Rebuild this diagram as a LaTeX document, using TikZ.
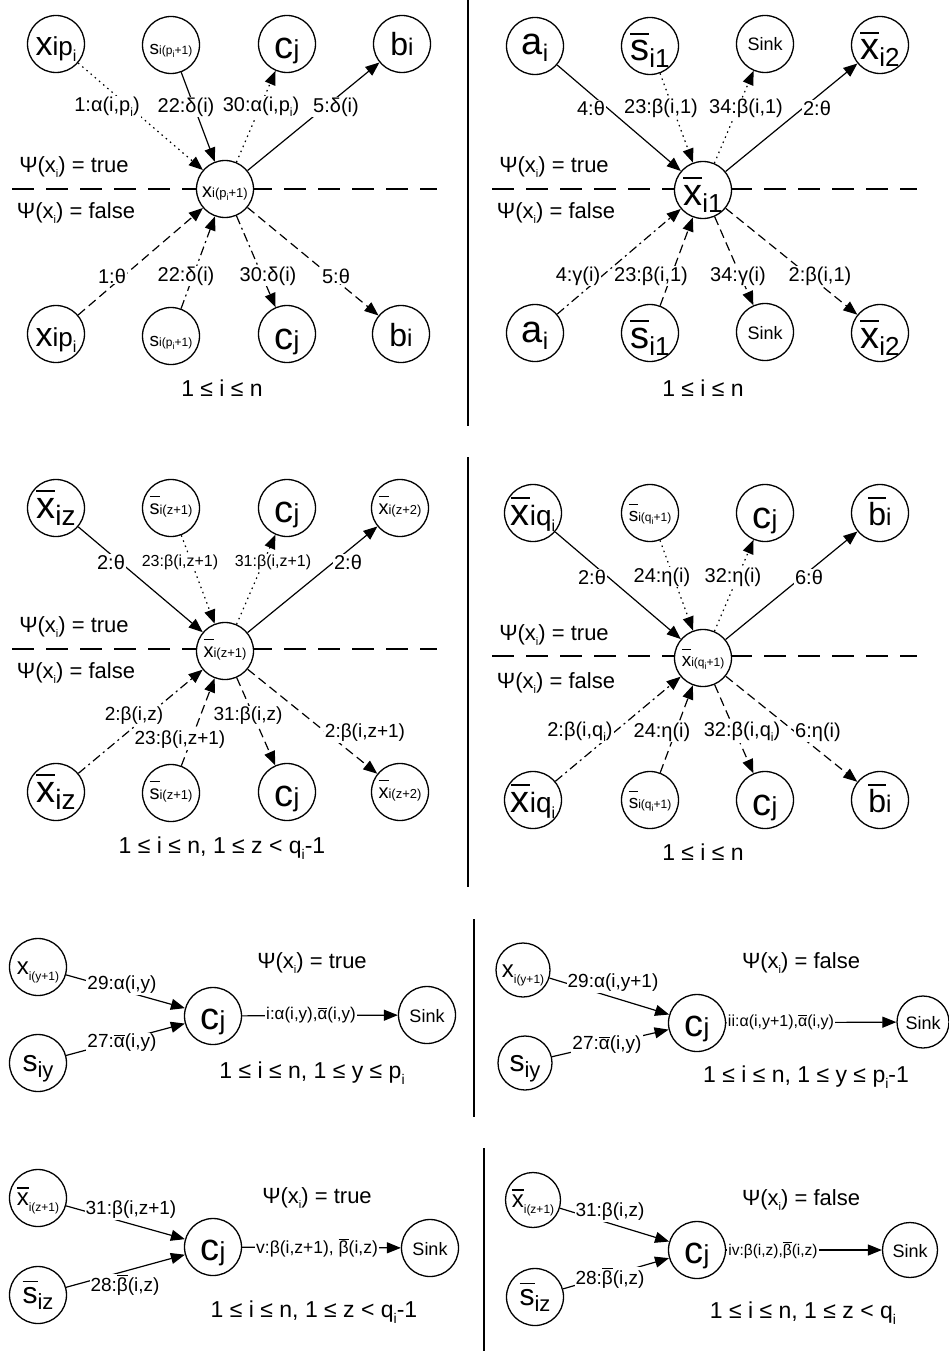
\documentclass[tikz,border=0pt]{standalone}
\usepackage{fontspec}
\setmainfont{Liberation Sans}
\usetikzlibrary{arrows.meta}
\newcommand\fs[1]{\fontsize{#1}{#1}\selectfont}
\newcommand\lo[3]{\raisebox{-#1pt}{\fs{#2}#3}}
\newcommand\ob[2][.15em]{\vbox{\hrule height .06em \kern #1\hbox{#2}}}
\begin{document}
\begin{tikzpicture}[x=1pt,y=-1pt,
  nd/.style={circle,draw,line width=1.3pt,fill=white,minimum size=57pt,inner sep=0pt,text height=20pt,text depth=0pt},
  bo/.style={text height=#1 pt},
  ed/.style={line width=1.2pt,-{Triangle[length=14pt,width=11pt]}},
  dotl/.style={ed,dash pattern=on 1.5pt off 4pt},
  dsh/.style={ed,dash pattern=on 9pt off 5pt},
  dshd/.style={ed,dash pattern=on 9pt off 4pt on 2pt off 4pt},
  lb/.style={fill=white,inner sep=1pt,font=\fs{20}},
  sep/.style={line width=2.5pt,dash pattern=on 22pt off 12pt},
  div/.style={line width=2pt},
  txt/.style={font=\fs{22},inner sep=0pt},
  cons/.style={font=\fs{23},inner sep=0pt},
]
\fill[white] (0,0) rectangle (948,1351);
\useasboundingbox (0,0) rectangle (948,1351);
% dividers
\draw[div] (468,0) -- (468,426);
\draw[div] (468,457) -- (468,887);
\draw[div] (474,919) -- (474,1117);
\draw[div] (484,1148) -- (484,1351);
% horizontal separators
\draw[sep] (12,189) -- (437,189);
\draw[sep] (492,189) -- (917,189);
\draw[sep] (12,649) -- (437,649);
\draw[sep] (492,656) -- (917,656);

% ---------------- Panel 1 ----------------
\node[nd,bo=24] (p1a) at (56,44) {\fs{34}x\fs{26}ip\lo{6}{16}{i}};
\node[nd,bo=20] (p1b) at (171,45) {\fs{19}s\fs{12}i(p\lo{3}{9}{i}+1)};
\node[nd,bo=30] (p1c) at (287,44) {\fs{38}c\fs{26}j};
\node[nd,bo=24] (p1d) at (402,44) {\fs{32}b\fs{24}i};
\node[nd,bo=16] (p1m) at (225,189) {\fs{20}x\fs{13}i(p\lo{3}{9}{i}+1)};
\node[nd,bo=24] (p1e) at (56,334) {\fs{34}x\fs{26}ip\lo{6}{16}{i}};
\node[nd,bo=20] (p1f) at (171,336) {\fs{19}s\fs{12}i(p\lo{3}{9}{i}+1)};
\node[nd,bo=30] (p1g) at (287,334) {\fs{38}c\fs{26}j};
\node[nd,bo=24] (p1h) at (401,334) {\fs{32}b\fs{24}i};
\draw[dotl] (p1a) -- (p1m);
\draw[ed] (p1b) -- (p1m);
\draw[dotl] (p1m) -- (p1c);
\draw[ed] (p1m) -- (p1d);
\draw[dsh] (p1e) -- (p1m);
\draw[dshd] (p1f) -- (p1m);
\draw[dshd] (p1m) -- (p1g);
\draw[dsh] (p1m) -- (p1h);
\node[lb] (l1a) at (107,107) {1:α(i,p\lo{5}{12}{i})};
\node[lb] (l1b) at (186,107) {22:δ(i)};
\node[lb] (l1c) at (261,107) {30:α(i,p\lo{5}{12}{i})};
\node[lb] (l1d) at (336,107) {5:δ(i)};
\node[lb] (l1e) at (112,276) {1:θ};
\node[lb] (l1f) at (186,276) {22:δ(i)};
\node[lb] (l1g) at (268,276) {30:δ(i)};
\node[lb] (l1h) at (336,276) {5:θ};
\node[txt] (t1a) at (74,167) {Ψ(x\lo{5}{11}{i}) = true};
\node[txt] (t1b) at (76,213) {Ψ(x\lo{5}{11}{i}) = false};
\node[cons] (c1) at (222,388) {1 ≤ i ≤ n};

% ---------------- Panel 2 ----------------
\node[nd,bo=18] (p2a) at (535,46) {\fs{38}a\lo{7}{24}{i}};
\node[nd,bo=30] (p2b) at (650,46) {\fs{38}\ob{s}\lo{7}{26}{i1}};
\node[nd,bo=14] (p2c) at (765,44) {\fs{18}Sink};
\node[nd,bo=30] (p2d) at (880,45) {\fs{38}\ob{x}\lo{7}{26}{i2}};
\node[nd,bo=30] (p2m) at (703,190) {\fs{38}\ob{x}\lo{7}{26}{i1}};
\node[nd,bo=18] (p2e) at (535,333) {\fs{38}a\lo{7}{24}{i}};
\node[nd,bo=30] (p2f) at (650,333) {\fs{38}\ob{s}\lo{7}{26}{i1}};
\node[nd,bo=14] (p2g) at (765,332) {\fs{18}Sink};
\node[nd,bo=30] (p2h) at (880,333) {\fs{38}\ob{x}\lo{7}{26}{i2}};
\draw[ed] (p2a) -- (p2m);
\draw[dotl] (p2b) -- (p2m);
\draw[dotl] (p2m) -- (p2c);
\draw[ed] (p2m) -- (p2d);
\draw[dshd] (p2e) -- (p2m);
\draw[dsh] (p2f) -- (p2m);
\draw[dsh] (p2m) -- (p2g);
\draw[dsh] (p2m) -- (p2h);
\node[lb] (l2a) at (591,108) {4:θ};
\node[lb] (l2b) at (661,108) {23:β(i,1)};
\node[lb] (l2c) at (746,108) {34:β(i,1)};
\node[lb] (l2d) at (817,108) {2:θ};
\node[lb] (l2e) at (578,276) {4:γ(i)};
\node[lb] (l2f) at (651,276) {23:β(i,1)};
\node[lb] (l2g) at (738,276) {34:γ(i)};
\node[lb] (l2h) at (820,276) {2:β(i,1)};
\node[txt] (t2a) at (554,167) {Ψ(x\lo{5}{11}{i}) = true};
\node[txt] (t2b) at (556,213) {Ψ(x\lo{5}{11}{i}) = false};
\node[cons] (c2) at (703,388) {1 ≤ i ≤ n};

% ---------------- Panel 3 ----------------
\node[nd,bo=20] (p3a) at (56,508) {\fs{38}\ob{x}\lo{7}{28}{iz}};
\node[nd,bo=12] (p3b) at (171,508) {\fs{20}\ob[.3em]{s}\fs{13}i(z+1)};
\node[nd,bo=28] (p3c) at (287,508) {\fs{38}c\fs{26}j};
\node[nd,bo=12] (p3d) at (400,508) {\fs{20}\ob[.3em]{x}\fs{13}i(z+2)};
\node[nd,bo=12] (p3m) at (225,651) {\fs{20}\ob[.3em]{x}\fs{13}i(z+1)};
\node[nd,bo=20] (p3e) at (56,792) {\fs{38}\ob{x}\lo{7}{28}{iz}};
\node[nd,bo=12] (p3f) at (171,793) {\fs{20}\ob[.3em]{s}\fs{13}i(z+1)};
\node[nd,bo=28] (p3g) at (287,792) {\fs{38}c\fs{26}j};
\node[nd,bo=12] (p3h) at (400,792) {\fs{20}\ob[.3em]{x}\fs{13}i(z+2)};
\draw[ed] (p3a) -- (p3m);
\draw[dotl] (p3b) -- (p3m);
\draw[dotl] (p3m) -- (p3c);
\draw[ed] (p3m) -- (p3d);
\draw[dshd] (p3e) -- (p3m);
\draw[dsh] (p3f) -- (p3m);
\draw[dsh] (p3m) -- (p3g);
\draw[dsh] (p3m) -- (p3h);
\node[lb] (l3a) at (111,562) {2:θ};
\node[lb,font=\fs{16}] (l3b) at (180,562) {23:β(i,z+1)};
\node[lb,font=\fs{16}] (l3c) at (273,562) {31:β(i,z+1)};
\node[lb] (l3d) at (348,562) {2:θ};
\node[lb,font=\fs{19}] (l3e) at (134,716) {2:β(i,z)};
\node[lb,font=\fs{19}] (l3f) at (180,740) {23:β(i,z+1)};
\node[lb,font=\fs{19}] (l3g) at (248,716) {31:β(i,z)};
\node[lb,font=\fs{19}] (l3h) at (365,733) {2:β(i,z+1)};
\node[txt] (t3a) at (74,627) {Ψ(x\lo{5}{11}{i}) = true};
\node[txt] (t3b) at (76,673) {Ψ(x\lo{5}{11}{i}) = false};
\node[cons] (c3) at (222,848) {1 ≤ i ≤ n, 1 ≤ z < q\lo{6}{14}{i}-1};

% ---------------- Panel 4 ----------------
\node[nd,bo=24] (p4a) at (533,513) {\fs{38}\ob{x}\fs{28}iq\lo{6}{16}{i}};
\node[nd,bo=16] (p4b) at (650,513) {\fs{19}\ob[.3em]{s}\fs{12}i(q\lo{3}{9}{i}+1)};
\node[nd,bo=30] (p4c) at (765,513) {\fs{38}c\fs{26}j};
\node[nd,bo=24] (p4d) at (880,513) {\fs{32}\ob[.08em]{b}\fs{24}i};
\node[nd,bo=16] (p4m) at (703,658) {\fs{19}\ob[.3em]{x}\fs{12}i(q\lo{3}{9}{i}+1)};
\node[nd,bo=24] (p4e) at (533,800) {\fs{38}\ob{x}\fs{28}iq\lo{6}{16}{i}};
\node[nd,bo=16] (p4f) at (650,800) {\fs{19}\ob[.3em]{s}\fs{12}i(q\lo{3}{9}{i}+1)};
\node[nd,bo=30] (p4g) at (765,800) {\fs{38}c\fs{26}j};
\node[nd,bo=24] (p4h) at (880,800) {\fs{32}\ob[.08em]{b}\fs{24}i};
\draw[ed] (p4a) -- (p4m);
\draw[dotl] (p4b) -- (p4m);
\draw[dotl] (p4m) -- (p4c);
\draw[ed] (p4m) -- (p4d);
\draw[dshd] (p4e) -- (p4m);
\draw[dsh] (p4f) -- (p4m);
\draw[dsh] (p4m) -- (p4g);
\draw[dsh] (p4m) -- (p4h);
\node[lb] (l4a) at (592,577) {2:θ};
\node[lb] (l4b) at (662,577) {24:η(i)};
\node[lb] (l4c) at (733,577) {32:η(i)};
\node[lb] (l4d) at (809,577) {6:θ};
\node[lb] (l4e) at (580,732) {2:β(i,q\lo{5}{12}{i})};
\node[lb] (l4f) at (662,732) {24:η(i)};
\node[lb] (l4g) at (742,732) {32:β(i,q\lo{5}{12}{i})};
\node[lb] (l4h) at (818,732) {6:η(i)};
\node[txt] (t4a) at (554,635) {Ψ(x\lo{5}{11}{i}) = true};
\node[txt] (t4b) at (556,683) {Ψ(x\lo{5}{11}{i}) = false};
\node[cons] (c4) at (703,852) {1 ≤ i ≤ n};

% ---------------- Panel 5 ----------------
\node[nd,bo=14] (p5a) at (38,967) {\fs{24}x\lo{6}{12}{i(y+1)}};
\node[nd,bo=16] (p5b) at (38,1063) {\fs{30}s\lo{6}{22}{iy}};
\node[nd,bo=26] (p5c) at (213,1016) {\fs{38}c\fs{26}j};
\node[nd,bo=14] (p5d) at (427,1015) {\fs{18}Sink};
\draw[ed] (p5a) -- (p5c);
\draw[ed] (p5b) -- (p5c);
\draw[ed] (p5c) -- (p5d);
\node[lb,font=\fs{19}] (l5a) at (122,985) {29:α(i,y)};
\node[lb,font=\fs{19}] (l5b) at (122,1043) {27:\ob[.1em]{α}(i,y)};
\node[lb,font=\fs{17}] (l5c) at (311,1015) {i:α(i,y),\ob[.1em]{α}(i,y)};
\node[txt] (t5) at (312,963) {Ψ(x\lo{5}{11}{i}) = true};
\node[cons] (c5) at (312,1073) {1 ≤ i ≤ n, 1 ≤ y ≤ p\lo{6}{14}{i}};

% ---------------- Panel 6 ----------------
\node[nd,bo=14,minimum size=54pt] (p6a) at (523,970) {\fs{24}x\lo{6}{12}{i(y+1)}};
\node[nd,bo=16,minimum size=54pt] (p6b) at (525,1063) {\fs{30}s\lo{6}{22}{iy}};
\node[nd,bo=26] (p6c) at (697,1023) {\fs{38}c\fs{26}j};
\node[nd,bo=14,minimum size=52pt] (p6d) at (923,1022) {\fs{18}Sink};
\draw[ed] (p6a) -- (p6c);
\draw[ed] (p6b) -- (p6c);
\draw[ed] (p6c) -- (p6d);
\node[lb,font=\fs{19}] (l6a) at (613,983) {29:α(i,y+1)};
\node[lb,font=\fs{19}] (l6b) at (607,1045) {27:\ob[.1em]{α}(i,y)};
\node[lb,font=\fs{16}] (l6c) at (781,1022) {ii:α(i,y+1),\ob[.1em]{α}(i,y)};
\node[txt] (t6) at (801,963) {Ψ(x\lo{5}{11}{i}) = false};
\node[cons] (c6) at (806,1077) {1 ≤ i ≤ n, 1 ≤ y ≤ p\lo{6}{14}{i}-1};

% ---------------- Panel 7 ----------------
\node[nd,bo=14] (p7a) at (38,1198) {\fs{24}\ob{x}\lo{6}{12}{i(z+1)}};
\node[nd,bo=16] (p7b) at (38,1295) {\fs{30}\ob{s}\lo{6}{22}{iz}};
\node[nd,bo=26] (p7c) at (213,1247) {\fs{38}c\fs{26}j};
\node[nd,bo=14] (p7d) at (430,1248) {\fs{18}Sink};
\draw[ed] (p7a) -- (p7c);
\draw[ed] (p7b) -- (p7c);
\draw[ed] (p7c) -- (p7d);
\node[lb,font=\fs{19}] (l7a) at (131,1210) {31:β(i,z+1)};
\node[lb,font=\fs{19}] (l7b) at (125,1285) {28:\ob[.08em]{β}(i,z)};
\node[lb,font=\fs{17.5}] (l7c) at (317,1248) {v:β(i,z+1), \ob[.08em]{β}(i,z)};
\node[txt] (t7) at (317,1198) {Ψ(x\lo{5}{11}{i}) = true};
\node[cons] (c7) at (314,1312) {1 ≤ i ≤ n, 1 ≤ z < q\lo{6}{14}{i}-1};

% ---------------- Panel 8 ----------------
\node[nd,bo=14,minimum size=55pt] (p8a) at (533,1200) {\fs{24}\ob{x}\lo{6}{12}{i(z+1)}};
\node[nd,bo=16] (p8b) at (535,1297) {\fs{30}\ob{s}\lo{6}{22}{iz}};
\node[nd,bo=26] (p8c) at (697,1250) {\fs{38}c\fs{26}j};
\node[nd,bo=14,minimum size=55pt] (p8d) at (910,1250) {\fs{18}Sink};
\draw[ed] (p8a) -- (p8c);
\draw[ed] (p8b) -- (p8c);
\draw[ed] (p8c) -- (p8d);
\node[lb,font=\fs{19}] (l8a) at (610,1212) {31:β(i,z)};
\node[lb,font=\fs{19}] (l8b) at (610,1278) {28:\ob[.08em]{β}(i,z)};
\node[lb,font=\fs{15.5}] (l8c) at (773,1250) {iv:β(i,z),\ob[.08em]{β}(i,z)};
\node[txt] (t8) at (801,1200) {Ψ(x\lo{5}{11}{i}) = false};
\node[cons] (c8) at (803,1313) {1 ≤ i ≤ n, 1 ≤ z < q\lo{6}{14}{i}};
\end{tikzpicture}
\end{document}
